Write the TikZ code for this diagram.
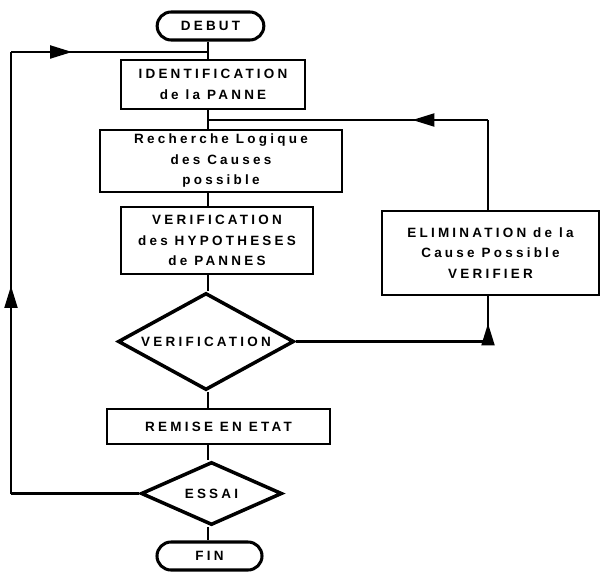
\documentclass[tikz,border=0pt]{standalone}
\usepackage{fontspec}
\newfontfamily\flowfont[LetterSpace=24]{Liberation Sans}
\usetikzlibrary{arrows.meta, shapes.geometric, shapes.misc, decorations.markings}

\tikzset{
  txt/.style={font=\flowfont\bfseries\fontsize{11.5}{17.5}\selectfont, align=center, inner sep=0pt},
  box/.style={txt, draw, line width=2.4pt, rectangle},
  term/.style={txt, draw, line width=2.6pt, rounded rectangle},
  test/.style={txt, draw, line width=3pt, diamond, aspect=2},
  link/.style={line width=1.8pt},
  arrowat/.style={postaction={decorate}, decoration={markings,
    mark=at position #1 with {\arrow{Triangle[length=6.6mm,width=3.9mm]}}}}
}

\begin{document}
\begin{tikzpicture}[x=0.03cm, y=-0.03cm]
    \useasboundingbox (0,0) rectangle (601,571);

    \node[term, minimum width=3.2cm, minimum height=0.84cm] (debut) at (210.5,26) {DEBUT};
    \node[box, minimum width=5.52cm, minimum height=1.47cm] (ident) at (213,84.5) {IDENTIFICATION\\de la PANNE};
    \node[box, minimum width=7.26cm, minimum height=1.86cm] (rech) at (221,161) {Recherche Logique\\des Causes\\possible};
    \node[box, minimum width=5.76cm, minimum height=2.01cm] (verif) at (217,240.5) {VERIFICATION\\des HYPOTHESES\\de PANNES};
    \node[box, minimum width=6.51cm, minimum height=2.52cm] (elim) at (490.5,253) {ELIMINATION de la\\Cause Possible\\VERIFIER};
    \node[test, minimum width=5.28cm, minimum height=2.91cm] (verift) at (206,341.5) {VERIFICATION};
    \node[box, minimum width=6.69cm, minimum height=1.05cm] (remise) at (218.5,426.5) {REMISE EN ETAT};
    \node[test, minimum width=4.23cm, minimum height=1.89cm] (essai) at (211.5,493.5) {ESSAI};
    \node[term, minimum width=3.15cm, minimum height=0.84cm] (fin) at (209.5,556) {FIN};

    % points de jonction
    \coordinate (j1) at (208,52);
    \coordinate (j2) at (208,120);
    \coordinate (lb) at (11,493.5);
    \coordinate (lt) at (11,52);
    \coordinate (rb) at (488,341.5);
    \coordinate (rt) at (488,120);

    \foreach \a/\b in {debut/ident, ident/rech, rech/verif, verif/verift, verift/remise, remise/essai, essai/fin}
      \draw[link] (j1 |- \a.south) -- (j1 |- \b.north);

    % boucle ESSAI
    \draw[link] (essai.west) -- (lb);
    \draw[link, arrowat=0.47] (lb) -- (lt);
    \draw[link, arrowat=0.31] (lt) -- (j1);

    % boucle ELIMINATION
    \draw[link] (verift.east) -- (rb);
    \draw[link, arrowat=0.4] (rb) -- (rb |- elim.south);
    \draw[link] (rt |- elim.north) -- (rt);
    \draw[link, arrowat=0.27] (rt) -- (j2);
\end{tikzpicture}
\end{document}
